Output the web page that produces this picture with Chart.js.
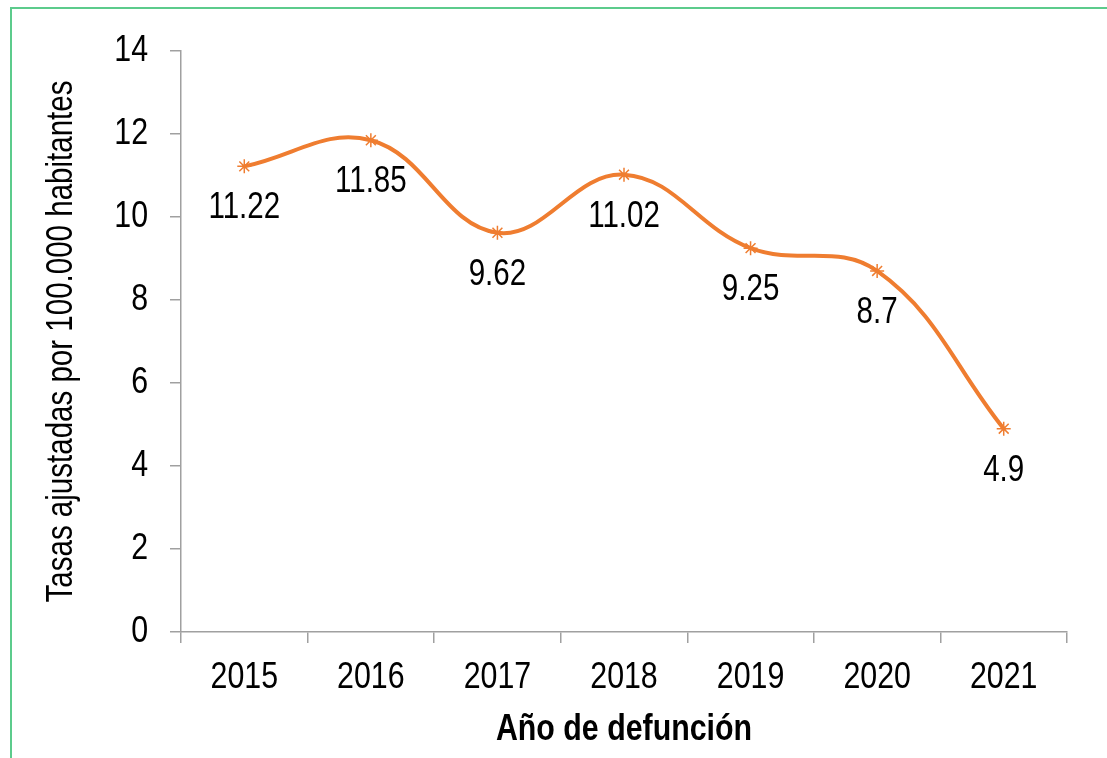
<!DOCTYPE html>
<html>
<head>
<meta charset="utf-8">
<script src="https://cdn.jsdelivr.net/npm/chart.js@4.4.1/dist/chart.umd.min.js"></script>
<style>
  html, body { margin: 0; padding: 0; background: #fff; overflow: hidden; }
  #wrap { position: relative; width: 1107px; height: 758px; }
  #frame { position: absolute; left: 10px; top: 7px; width: 1120px; height: 780px; border: 2px solid #5ccb8c; box-sizing: border-box; }
  canvas { position: absolute; left: 0; top: 0; }
</style>
</head>
<body>
<div id="wrap">
  <div id="frame"></div>
  <canvas id="myChart" width="1107" height="758"></canvas>
</div>
<script>
// datos del gráfico
const years = ['2015', '2016', '2017', '2018', '2019', '2020', '2021'];
const rates = [11.22, 11.85, 9.62, 11.02, 9.25, 8.7, 4.9];
const rateLabels = ['11.22', '11.85', '9.62', '11.02', '9.25', '8.7', '4.9'];

const FONT = '"Liberation Sans", Arial, sans-serif';
const NARROW = 0.82;   // no hay Arial Narrow instalada: se comprime el texto
const AXIS_GREY = '#a0a0a0';

const ctx = document.getElementById('myChart').getContext('2d');

// todo el texto se dibuja estrecho, como Arial Narrow
const rawFillText = ctx.fillText.bind(ctx);
ctx.fillText = function(text, x, y, maxWidth) {
    const w = ctx.measureText(text).width * NARROW;
    const mw = (maxWidth === undefined) ? w : Math.min(maxWidth, w);
    return rawFillText(text, x, y, mw);
};

// etiquetas debajo de cada punto
const pointLabels = {
    id: 'pointLabels',
    afterDatasetsDraw(chart) {
        const c = chart.ctx;
        const meta = chart.getDatasetMeta(0);
        c.save();
        c.font = '36px ' + FONT;
        c.fillStyle = '#000';
        c.textAlign = 'center';
        c.textBaseline = 'middle';
        meta.data.forEach((pt, i) => {
            c.fillText(rateLabels[i], pt.x, pt.y + 42);
        });
        c.restore();
    }
};

const chart = new Chart(ctx, {
    type: 'line',
    data: {
        labels: years,
        datasets: [{
            data: rates,
            borderColor: '#ef7d30',
            borderWidth: 4,
            tension: 0.4,
            fill: false,
            pointStyle: 'star',
            pointRadius: 7,
            pointBorderWidth: 1.5,
            pointBorderColor: '#ef7d30',
            pointBackgroundColor: '#ef7d30'
        }]
    },
    options: {
        responsive: false,
        animation: false,
        layout: { padding: { left: 0, top: 51, right: 40, bottom: 0 } },
        plugins: {
            legend: { display: false },
            tooltip: { enabled: false }
        },
        scales: {
            x: {
                offset: true,
                afterFit(scale) { scale.height = 126; },
                grid: {
                    offset: true,
                    drawOnChartArea: false,
                    drawTicks: true,
                    tickLength: 11,
                    color: AXIS_GREY,
                    lineWidth: 1.5
                },
                border: { display: true, color: AXIS_GREY, width: 1.5 },
                ticks: {
                    color: '#000',
                    padding: 13,
                    font: { family: FONT, size: 37 }
                },
                title: {
                    display: true,
                    text: 'Año de defunción',
                    color: '#000',
                    padding: { top: 0, bottom: 6 },
                    font: { family: FONT, size: 37, weight: 'bold' }
                }
            },
            y: {
                min: 0,
                max: 14,
                afterFit(scale) { scale.width = 181; },
                ticks: {
                    stepSize: 2,
                    color: '#000',
                    padding: 22,
                    font: { family: FONT, size: 37 }
                },
                grid: {
                    drawOnChartArea: false,
                    drawTicks: true,
                    tickLength: 11,
                    color: AXIS_GREY,
                    lineWidth: 1.5
                },
                border: { display: true, color: AXIS_GREY, width: 1.5 },
                title: {
                    display: true,
                    text: 'Tasas ajustadas por 100.000 habitantes',
                    color: '#000',
                    padding: { top: 40, bottom: 0 },
                    font: { family: FONT, size: 36 }
                }
            }
        }
    },
    plugins: [pointLabels]
});
</script>
</body>
</html>
